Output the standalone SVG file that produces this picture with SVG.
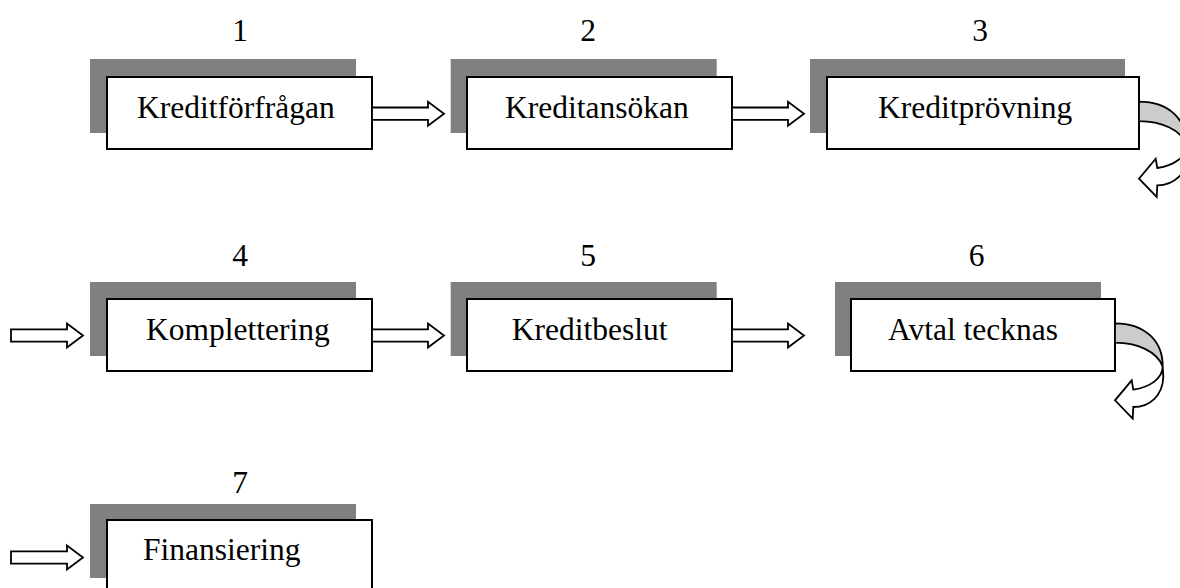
<svg xmlns="http://www.w3.org/2000/svg" width="1180" height="588" viewBox="0 0 1180 588">
<style>
.sh{fill:#808080;stroke:none}
.bx{fill:#fff;stroke:#000;stroke-width:2}
.t{font-family:"Liberation Serif","Times New Roman",serif;font-size:31.5px;fill:#000}
.n{font-family:"Liberation Serif","Times New Roman",serif;font-size:31.5px;fill:#000;text-anchor:middle}
.ar{fill:#fff;stroke:#000;stroke-width:1.8;stroke-linejoin:miter}
.band{fill:#cccccc;stroke:#000;stroke-width:1.8}
.front{fill:#fff;stroke:#000;stroke-width:1.8;stroke-linejoin:miter}
</style>
<defs>
<path id="rarrow" d="M0,-6.2 H56 V-12 L72,0 L56,12 V6.2 H0 Z"/>
<g id="curl">
<path class="band" d="M0,0 C30,0 48,18 47.7,43.3 C42,28 22,19.4 0,19.4 Z"/>
<path class="front" d="M47.7,43.3 L48.3,53.3 C48,72 35,83.7 18.3,83.7 L17.7,95.3 L0,77 L16.7,57 L18.3,66.3 C35,64 47.7,55 47.7,43.3 Z"/>
</g>
</defs>

<g id="node1">
<text class="n" x="240" y="40.7">1</text>
<rect class="sh" x="90" y="59" width="266" height="74"/>
<rect class="bx" x="107" y="77" width="265" height="72"/>
<text class="t" x="137" y="118">Kreditförfrågan</text>
</g>
<g id="node2">
<text class="n" x="588" y="40.7">2</text>
<rect class="sh" x="450.7" y="59" width="266" height="74"/>
<rect class="bx" x="467" y="77" width="265" height="72"/>
<text class="t" x="505" y="118">Kreditansökan</text>
</g>
<g id="node3">
<text class="n" x="980" y="40.7">3</text>
<rect class="sh" x="810" y="59" width="315" height="74"/>
<rect class="bx" x="827" y="77" width="312" height="72"/>
<text class="t" x="878" y="118">Kreditprövning</text>
</g>
<g id="node4">
<text class="n" x="240" y="266.3">4</text>
<rect class="sh" x="90" y="282" width="266" height="74"/>
<rect class="bx" x="107" y="299" width="265" height="72"/>
<text class="t" x="146" y="339.5">Komplettering</text>
</g>
<g id="node5">
<text class="n" x="588" y="266.3">5</text>
<rect class="sh" x="450.7" y="282" width="266" height="74"/>
<rect class="bx" x="467" y="299" width="265" height="72"/>
<text class="t" x="511.7" y="339.5">Kreditbeslut</text>
</g>
<g id="node6">
<text class="n" x="976.7" y="266.3">6</text>
<rect class="sh" x="835" y="282" width="266" height="74"/>
<rect class="bx" x="851" y="299" width="264" height="72"/>
<text class="t" x="888" y="339.5">Avtal tecknas</text>
</g>
<g id="node7">
<text class="n" x="240" y="493">7</text>
<rect class="sh" x="90" y="504" width="266" height="74"/>
<rect class="bx" x="107" y="520" width="265" height="72"/>
<text class="t" x="143" y="560">Finansiering</text>
</g>

<g id="connectors">
<use href="#rarrow" class="ar" x="372" y="113.7"/>
<use href="#rarrow" class="ar" x="732" y="113.7"/>
<use href="#curl" x="1139" y="101.7"/>
<use href="#rarrow" class="ar" x="11" y="335.5"/>
<use href="#rarrow" class="ar" x="372" y="335.5"/>
<use href="#rarrow" class="ar" x="732" y="335.5"/>
<use href="#curl" x="1115" y="323.3"/>
<use href="#rarrow" class="ar" x="11" y="557.5"/>
</g>
</svg>
